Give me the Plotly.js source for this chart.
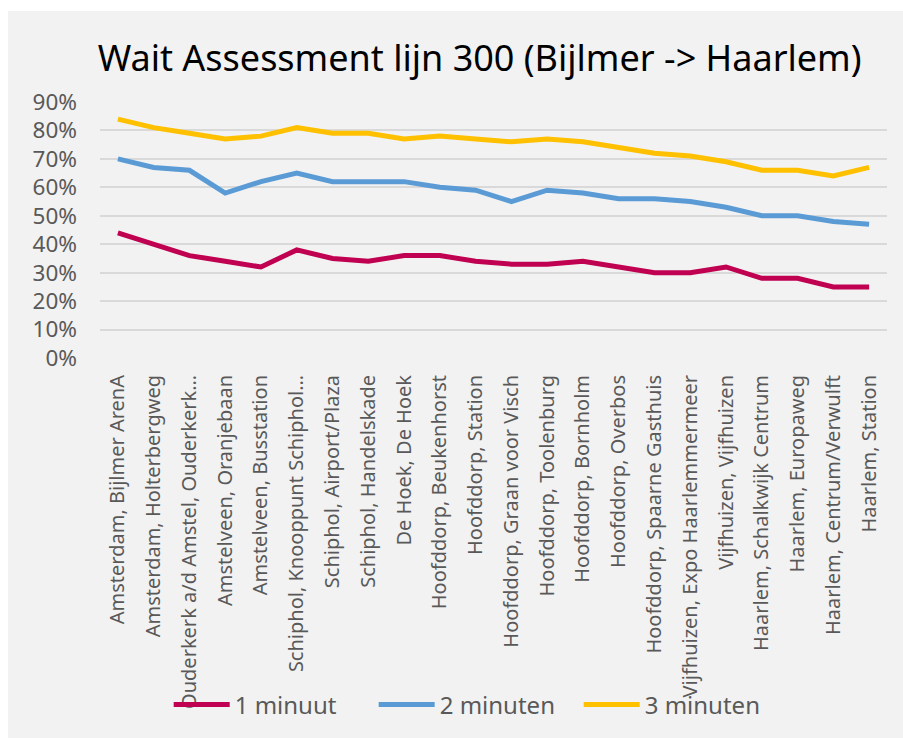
<!DOCTYPE html>
<html>
<head>
<meta charset="utf-8">
<script src="https://cdn.plot.ly/plotly-3.0.1.min.js"></script>
<style>
html,body{margin:0;padding:0;background:#ffffff;overflow:hidden;}
#chart{position:absolute;left:8px;top:11px;width:895px;height:727px;}
</style>
</head>
<body>
<div id="chart"></div>
<script>
const stops = [
  "Amsterdam, Bijlmer ArenA",
  "Amsterdam, Holterbergweg",
  "Ouderkerk a/d Amstel, Ouderkerk…",
  "Amstelveen, Oranjebaan",
  "Amstelveen, Busstation",
  "Schiphol, Knooppunt Schiphol…",
  "Schiphol, Airport/Plaza",
  "Schiphol, Handelskade",
  "De Hoek, De Hoek",
  "Hoofddorp, Beukenhorst",
  "Hoofddorp, Station",
  "Hoofddorp, Graan voor Visch",
  "Hoofddorp, Toolenburg",
  "Hoofddorp, Bornholm",
  "Hoofddorp, Overbos",
  "Hoofddorp, Spaarne Gasthuis",
  "Vijfhuizen, Expo Haarlemmermeer",
  "Vijfhuizen, Vijfhuizen",
  "Haarlem, Schalkwijk Centrum",
  "Haarlem, Europaweg",
  "Haarlem, Centrum/Verwulft",
  "Haarlem, Station"
];
const min1 = [0.44,0.40,0.36,0.34,0.32,0.38,0.35,0.34,0.36,0.36,0.34,0.33,0.33,0.34,0.32,0.30,0.30,0.32,0.28,0.28,0.25,0.25];
const min2 = [0.70,0.67,0.66,0.58,0.62,0.65,0.62,0.62,0.62,0.60,0.59,0.55,0.59,0.58,0.56,0.56,0.55,0.53,0.50,0.50,0.48,0.47];
const min3 = [0.84,0.81,0.79,0.77,0.78,0.81,0.79,0.79,0.77,0.78,0.77,0.76,0.77,0.76,0.74,0.72,0.71,0.69,0.66,0.66,0.64,0.67];
const seriesNames = ["1 minuut","2 minuten","3 minuten"];
const seriesColors = ["#C00050","#5B9BD5","#FFC000"];
const yTickVals = [0,0.1,0.2,0.3,0.4,0.5,0.6,0.7,0.8,0.9];
const yTickText = ["0%","10%","20%","30%","40%","50%","60%","70%","80%","90%"];

const values = [min1,min2,min3];
const traces = values.map((v,i)=>({
  type:"scatter",
  mode:"lines",
  x:stops,
  y:v,
  name:seriesNames[i],
  line:{color:seriesColors[i],width:5},
  hoverinfo:"x+y+name"
}));

const FONT = "Noto Sans, Open Sans, sans-serif";
const layout = {
  width:895,
  height:727,
  paper_bgcolor:"#F2F2F2",
  plot_bgcolor:"#F2F2F2",
  margin:{l:92,r:16,t:91,b:379},
  font:{family:FONT,color:"#595959"},
  title:{
    text:"Wait Assessment lijn 300 (Bijlmer -> Haarlem)",
    font:{family:FONT,size:36,color:"#000000"},
    x:0.527,xanchor:"center",
    y:0.935,yanchor:"middle"
  },
  xaxis:{
    type:"category",
    range:[-0.5,stops.length-0.5],
    tickangle:-90,
    tickfont:{size:20,color:"#595959"},
    showgrid:false,
    showline:false,
    zeroline:false,
    ticks:"",
    automargin:false,
    ticklabelstandoff:12
  },
  yaxis:{
    range:[0,0.9],
    tickvals:yTickVals,
    ticktext:yTickText,
    tickfont:{size:22.5,color:"#595959"},
    showgrid:true,
    gridcolor:"#D9D9D9",
    gridwidth:1.5,
    zeroline:false,
    showline:false,
    ticks:"",
    automargin:false,
    ticklabelstandoff:22
  },
  showlegend:true,
  legend:{
    orientation:"h",
    x:0.478,xanchor:"center",
    y:-1.346,yanchor:"middle",
    font:{size:24,color:"#595959"},
    bgcolor:"rgba(0,0,0,0)",
    itemwidth:56,
    entrywidth:134,
    entrywidthmode:"pixels"
  },
  hovermode:"closest"
};

Plotly.newPlot("chart",traces,layout,{displayModeBar:false,responsive:false});
</script>
</body>
</html>
